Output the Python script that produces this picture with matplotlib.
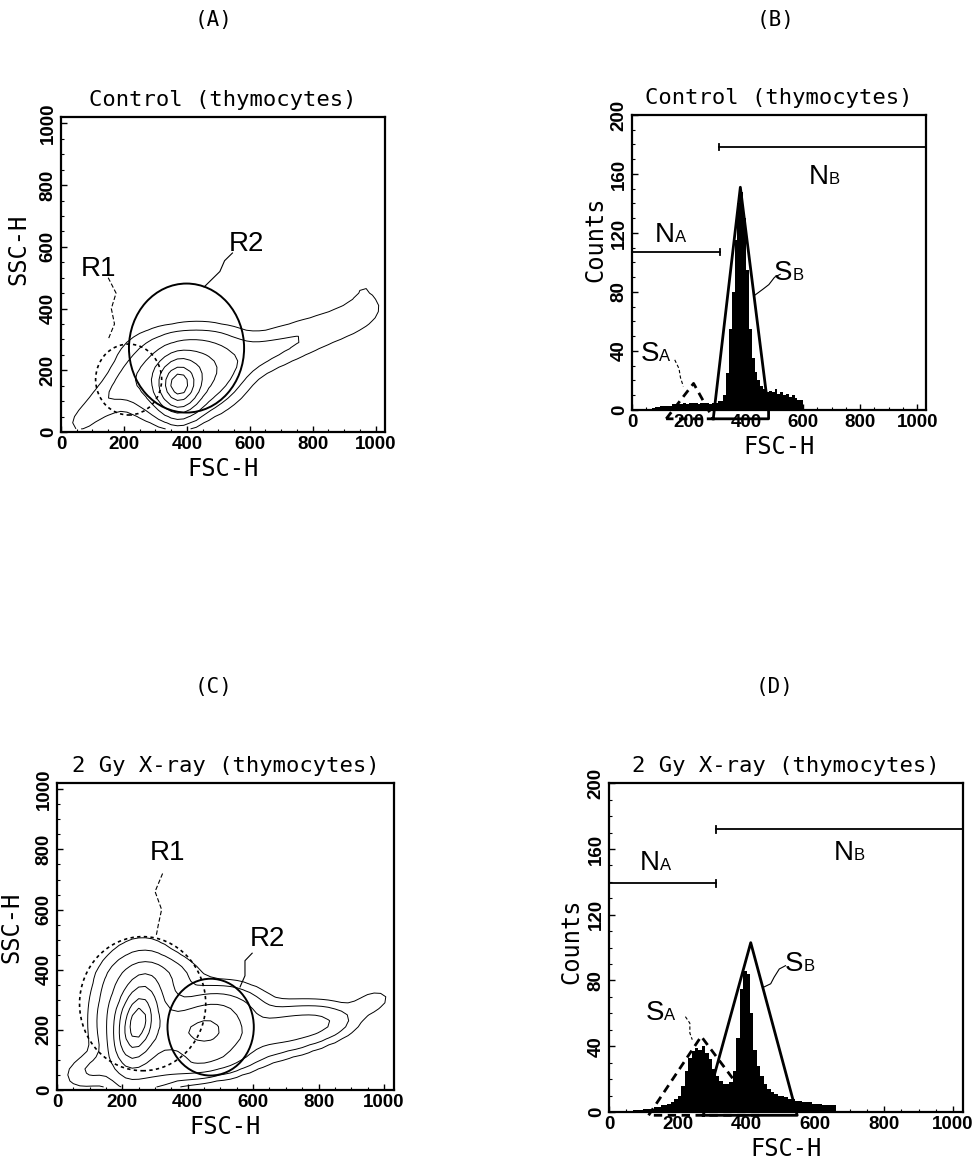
import matplotlib
matplotlib.use('Agg')
import matplotlib.pyplot as plt
from matplotlib.patches import Ellipse
from matplotlib.ticker import MultipleLocator
import numpy as np

# ---- data ----
title_ctrl = 'Control (thymocytes)'
title_xray = '2 Gy X-ray (thymocytes)'

# contour panels: gaussian components (x, y, sx, sy, angle, weight)
a_cx = [375, 400, 420, 150, 250, 620, 780, 930, 70, 960]
a_cy = [150, 180, 260, 110, 180, 250, 310, 370, 40, 480]
a_sx = [35, 80, 110, 70, 60, 100, 100, 70, 35, 40]
a_sy = [45, 55, 45, 30, 40, 35, 35, 35, 20, 60]
a_ang = [0, 15, 0, 40, 30, 22, 22, 25, 45, 0]
a_w = [1.0, 0.35, 0.05, 0.02, 0.03, 0.025, 0.018, 0.012, 0.01, 0.007]

c_cx = [245, 260, 300, 450, 500, 430, 690, 800, 960, 110]
c_cy = [220, 230, 380, 190, 270, 90, 200, 220, 290, 70]
c_sx = [30, 60, 70, 80, 70, 90, 80, 60, 45, 50]
c_sy = [70, 100, 35, 55, 40, 25, 40, 30, 25, 30]
c_ang = [-10, 0, 0, 0, 0, 10, 12, 10, 25, 25]
c_w = [1.0, 0.35, 0.05, 0.45, 0.12, 0.12, 0.12, 0.07, 0.015, 0.03]

contour_levels = [0.006, 0.02, 0.06, 0.15, 0.3, 0.55, 0.8]

# gates (center x, center y, width, height)
a_r1 = (215, 170, 210, 230)
a_r2 = (399, 272, 366, 418)
c_r1 = (262, 287, 386, 446)
c_r2 = (470, 209, 264, 322)

# histograms, 10-channel bins
b_start = 70
b_counts = [1, 2, 2, 3, 3, 3, 3, 4, 4, 4, 4, 5, 4, 5, 5, 5, 4, 5, 5, 5,
            4, 5, 5, 6, 6, 10, 25, 55, 80, 115, 140, 148, 130, 95, 55, 35,
            26, 20, 16, 14, 12, 13, 12, 14, 11, 12, 10, 11, 9, 10, 8, 7, 7]
d_start = 70
d_counts = [1, 1, 1, 2, 2, 2, 3, 3, 4, 4, 5, 6, 8, 10, 16, 25, 33, 37, 39, 38,
            40, 36, 32, 26, 22, 19, 17, 17, 18, 25, 45, 75, 86, 84, 60, 38,
            28, 22, 17, 14, 12, 11, 10, 10, 9, 8, 8, 7, 7, 6, 6, 6, 5, 5, 5,
            4, 4, 4, 4]

# triangles (x list, y list)
b_sa_x = [120, 216, 285, 120]
b_sa_y = [-6, 18, -6, -6]
b_sb_x = [285, 380, 479, 479, 285]
b_sb_y = [-6, 151, -1, -6, -6]
d_sa_x = [115, 268, 440, 115]
d_sa_y = [-2, 46, -2, -2]
d_sb_x = [274, 412, 547, 274]
d_sb_y = [-2, 103, -2, -2]

# N brackets (x0, x1, y)
b_na = (0, 310, 107)
b_nb = (304, 1030, 178)
d_na = (0, 312, 139)
d_nb = (312, 1030, 172)

MONO = 'DejaVu Sans Mono'
SANS = 'Liberation Sans'


def density(cx, cy, sx, sy, ang, w):
    xs = np.arange(0, 1024, 20) + 10
    X, Y = np.meshgrid(xs, xs)
    Z = np.zeros_like(X, dtype=float)
    for x0, y0, a, b, t, k in zip(cx, cy, sx, sy, ang, w):
        t = np.deg2rad(t)
        dx, dy = X - x0, Y - y0
        u = dx * np.cos(t) + dy * np.sin(t)
        v = -dx * np.sin(t) + dy * np.cos(t)
        Z += k * np.exp(-0.5 * ((u / a) ** 2 + (v / b) ** 2))
    return xs, Z


def style_axes(ax, xmax, ymax, ystep, yminor):
    ax.set_xlim(0, xmax)
    ax.set_ylim(0, ymax)
    for s in ax.spines.values():
        s.set_linewidth(1.6)
    ax.set_xticks(range(0, 1001, 200))
    ax.set_yticks(np.arange(0, ymax + 1, ystep))
    ax.xaxis.set_minor_locator(MultipleLocator(50))
    ax.yaxis.set_minor_locator(MultipleLocator(yminor))
    ax.tick_params(which='major', direction='in', length=4, width=1, pad=3)
    ax.tick_params(which='minor', direction='in', length=2, width=0.8)
    for lab in ax.get_xticklabels():
        lab.set_family(SANS)
        lab.set_fontweight('bold')
        lab.set_fontsize(13.5)
    for lab in ax.get_yticklabels():
        lab.set_family(SANS)
        lab.set_fontweight('bold')
        lab.set_fontsize(13.5)
        lab.set_rotation(90)
        lab.set_va('center')


def sub_label(ax, x, y, main, sub, size=20):
    ax.text(x, y, main, ha='right', va='baseline', family=SANS,
            fontsize=size, clip_on=False)
    ax.text(x, y, sub, ha='left', va='baseline', family=SANS,
            fontsize=size * 0.6, clip_on=False)


def bracket(ax, x0, x1, y):
    ax.plot([x0, x1], [y, y], color='black', lw=1.3, clip_on=False)
    ax.plot([x0, x0], [y - 2, y + 2], color='black', lw=1.3, clip_on=False)
    ax.plot([x1, x1], [y - 2, y + 2], color='black', lw=1.3, clip_on=False)


def labels(ax, title, ylabel, ypos, xoff):
    ax.set_title(title, family=MONO, fontsize=16, pad=8)
    ax.set_xlabel('FSC-H', family=MONO, fontsize=17, labelpad=3)
    ax.set_ylabel(ylabel, family=MONO, fontsize=17)
    ax.yaxis.set_label_coords(xoff, ypos)


def contour_panel(ax, comps, r1, r2, title, ypos, xoff):
    xs, Z = density(*comps)
    ax.contour(xs, xs, Z / Z.max(), levels=contour_levels, colors='black',
               linewidths=0.7)
    ax.add_patch(Ellipse(r2[:2], r2[2], r2[3], fill=False, ec='black', lw=1.4))
    ax.add_patch(Ellipse(r1[:2], r1[2], r1[3], fill=False, ec='black', lw=1.2,
                         ls=(0, (2, 2))))
    style_axes(ax, 1030, 1020, 200, 50)
    labels(ax, title, 'SSC-H', ypos, xoff)


def hist_panel(ax, start, counts, sa, sb, na, nb, title, ypos, xoff):
    edges = start + 10 * np.arange(len(counts) + 1)
    ax.stairs(counts, edges, fill=True, color='black')
    ax.plot(sb[0], sb[1], color='black', lw=2.0, clip_on=False)
    ax.plot(sa[0], sa[1], color='black', lw=2.0, ls=(0, (3, 2)), clip_on=False)
    bracket(ax, *na)
    bracket(ax, *nb)
    style_axes(ax, 1030, 200, 40, 10)
    labels(ax, title, 'Counts', ypos, xoff)


fig = plt.figure(figsize=(9.76, 11.66), dpi=100)

# (A)
axA = fig.add_axes([0.0625, 0.6295, 0.332, 0.270])
contour_panel(axA, (a_cx, a_cy, a_sx, a_sy, a_ang, a_w), a_r1, a_r2,
              title_ctrl, 0.58, -0.096)
axA.text(118, 505, 'R1', family=SANS, fontsize=20, ha='center')
axA.text(590, 585, 'R2', family=SANS, fontsize=20, ha='center')
axA.plot([150, 175, 160, 170, 150], [500, 450, 400, 350, 300], color='black',
         lw=0.8, ls=(0, (4, 2)))
axA.plot([545, 520, 505, 480, 455], [580, 555, 520, 495, 470], color='black', lw=0.8)

# (B)
axB = fig.add_axes([0.6475, 0.6484, 0.301, 0.253])
hist_panel(axB, b_start, b_counts, (b_sa_x, b_sa_y), (b_sb_x, b_sb_y),
           b_na, b_nb, title_ctrl, 0.58, -0.085)
sub_label(axB, 150, 114, 'N', 'A')
sub_label(axB, 690, 153, 'N', 'B')
sub_label(axB, 562, 88, 'S', 'B')
sub_label(axB, 95, 33, 'S', 'A')
axB.plot([520, 500, 480, 460, 432], [92, 90, 85, 82, 78], color='black', lw=0.8)
axB.plot([150, 165, 170, 180], [34, 28, 22, 16], color='black', lw=0.8,
         ls=(0, (3, 2)))

# (C)
axC = fig.add_axes([0.0584, 0.0652, 0.345, 0.263])
contour_panel(axC, (c_cx, c_cy, c_sx, c_sy, c_ang, c_w), c_r1, c_r2,
              title_xray, 0.53, -0.10)
axC.text(338, 765, 'R1', family=SANS, fontsize=20, ha='center')
axC.text(645, 478, 'R2', family=SANS, fontsize=20, ha='center')
axC.plot([323, 300, 320, 310, 303], [720, 660, 600, 550, 510], color='black',
         lw=0.8, ls=(0, (4, 2)))
axC.plot([597, 575, 575, 560], [455, 430, 380, 343], color='black', lw=0.8)

# (D)
axD = fig.add_axes([0.624, 0.0463, 0.363, 0.282])
hist_panel(axD, d_start, d_counts, (d_sa_x, d_sa_y), (d_sb_x, d_sb_y),
           d_na, d_nb, title_xray, 0.52, -0.073)
sub_label(axD, 148, 147, 'N', 'A')
sub_label(axD, 712, 153, 'N', 'B')
sub_label(axD, 565, 86, 'S', 'B')
sub_label(axD, 160, 56, 'S', 'A')
axD.plot([513, 495, 480, 470, 450], [89, 87, 82, 78, 76], color='black', lw=0.8)
axD.plot([222, 235, 235, 242], [58, 54, 48, 44], color='black', lw=0.8,
         ls=(0, (3, 2)))

# panel letters
for x, y, s in [(0.219, 0.983, '(A)'), (0.795, 0.983, '(B)'),
                (0.219, 0.411, '(C)'), (0.794, 0.411, '(D)')]:
    fig.text(x, y, s, family=MONO, fontsize=15, ha='center', va='center')

fig.savefig('out.png', dpi=100)
